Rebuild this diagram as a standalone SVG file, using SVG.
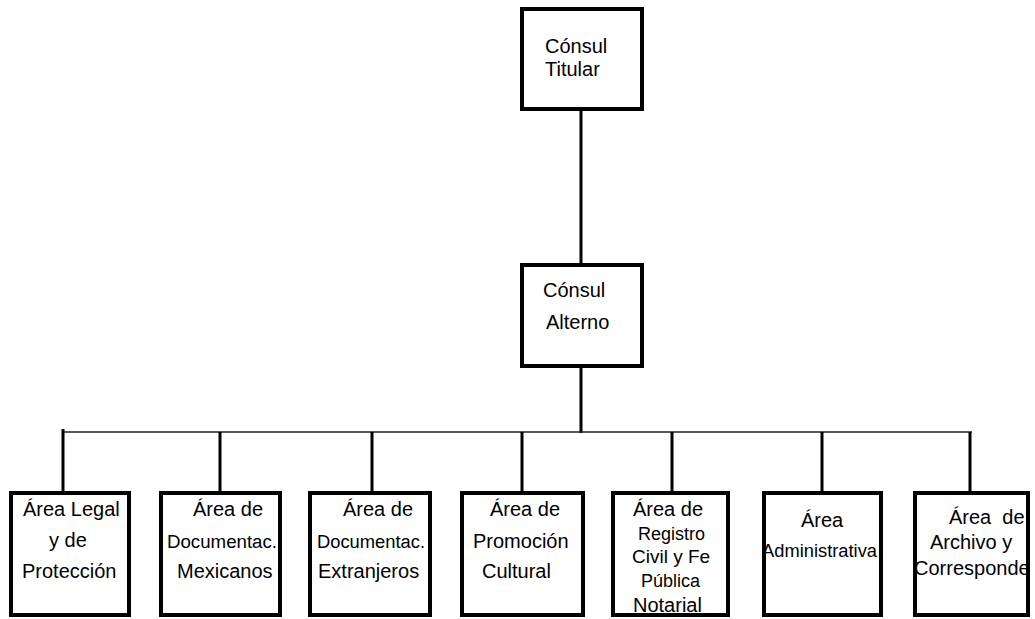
<svg xmlns="http://www.w3.org/2000/svg" width="1035" height="619" viewBox="0 0 1035 619">
<style>
.box{fill:#fff;stroke:#000;stroke-width:4}
.t{font-family:"Liberation Sans",Arial,sans-serif;font-size:20px;fill:#000}
.s{font-size:18px}
.m{font-size:19px}
.c{stroke:#000;stroke-width:3;fill:none}
.h{stroke:#222;stroke-width:1.5;fill:none}
</style>
<rect width="1035" height="619" fill="#fff"/>
<g id="connectors">
<line class="c" x1="581" y1="111" x2="581" y2="264"/>
<line class="c" x1="581" y1="367" x2="581" y2="433"/>
<line class="h" x1="63" y1="432" x2="972" y2="432"/>
<line class="c" x1="63" y1="429" x2="63" y2="492"/>
<line class="c" x1="220" y1="432" x2="220" y2="492"/>
<line class="c" x1="372" y1="432" x2="372" y2="492"/>
<line class="c" x1="522" y1="432" x2="522" y2="492"/>
<line class="c" x1="672" y1="432" x2="672" y2="492"/>
<line class="c" x1="822" y1="432" x2="822" y2="492"/>
<line class="c" x1="970" y1="432" x2="970" y2="492"/>
</g>
<g id="consul-titular">
<rect class="box" x="522" y="9" width="120" height="100"/>
<text class="t" x="545" y="53">Cónsul</text>
<text class="t" x="545" y="76">Titular</text>
</g>
<g id="consul-alterno">
<rect class="box" x="522" y="265" width="120" height="101"/>
<text class="t" x="543" y="297">Cónsul</text>
<text class="t" x="546" y="329">Alterno</text>
</g>
<g id="area-legal">
<rect class="box" x="11" y="493" width="118" height="122"/>
<text class="t" x="23" y="516">Área Legal</text>
<text class="t" x="49" y="547">y de</text>
<text class="t" x="22" y="578">Protección</text>
</g>
<g id="area-doc-mex">
<rect class="box" x="161" y="493" width="119" height="122"/>
<text class="t" x="193" y="516">Área de</text>
<text class="t s" x="167" y="548" textLength="110" lengthAdjust="spacingAndGlyphs">Documentac.</text>
<text class="t" x="177" y="578">Mexicanos</text>
</g>
<g id="area-doc-ext">
<rect class="box" x="310" y="493" width="120" height="122"/>
<text class="t" x="343" y="516">Área de</text>
<text class="t s" x="317" y="548" textLength="108" lengthAdjust="spacingAndGlyphs">Documentac.</text>
<text class="t" x="318" y="578">Extranjeros</text>
</g>
<g id="area-promocion">
<rect class="box" x="462" y="493" width="121" height="122"/>
<text class="t" x="490" y="516">Área de</text>
<text class="t" x="473" y="548">Promoción</text>
<text class="t" x="482" y="578">Cultural</text>
</g>
<g id="area-registro">
<rect class="box" x="613" y="493" width="115" height="122"/>
<text class="t" x="633" y="516">Área de</text>
<text class="t s" x="638" y="540">Registro</text>
<text class="t m" x="632" y="563">Civil y Fe</text>
<text class="t s" x="641" y="587">Pública</text>
<text class="t" x="633" y="612">Notarial</text>
</g>
<g id="area-administrativa">
<rect class="box" x="764" y="493" width="117" height="122"/>
<text class="t" x="801" y="527">Área</text>
<text class="t" x="762" y="557" style="font-size:17.5px" textLength="115" lengthAdjust="spacingAndGlyphs">Administrativa</text>
</g>
<g id="area-archivo">
<rect class="box" x="915" y="493" width="113" height="122"/>
<text class="t" x="949" y="524" xml:space="preserve">Área  de</text>
<text class="t" x="930" y="549">Archivo y</text>
<text class="t" x="914" y="575">Corresponde</text>
</g>
</svg>
